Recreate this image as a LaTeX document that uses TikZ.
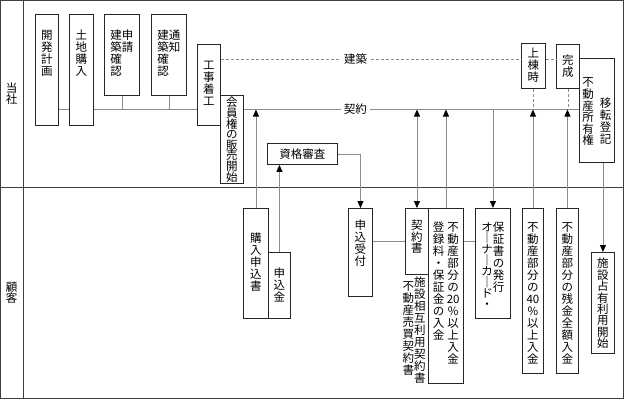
\documentclass[tikz,border=0pt]{standalone}
\usepackage{fontspec}
\setmainfont{Noto Sans CJK JP}
\usetikzlibrary{arrows.meta}

\makeatletter
\newcommand\vt[2][12pt]{\vtop{\baselineskip=#1\lineskiplimit=-\maxdimen\lineskip=0pt\vt@loop#2\vt@end}}
\def\vt@loop#1#2\vt@end{\hbox to 1em{\hss#1\hss}\if\relax\detokenize{#2}\relax\else\vt@loop#2\vt@end\fi}
\makeatother

\tikzset{
  box/.style={draw=black!85, line width=.9pt, inner sep=0pt, anchor=north west, font=\fontsize{11.5}{12}\selectfont},
  conn/.style={draw=black!45, line width=.9pt},
  dashconn/.style={conn, dash pattern=on 3pt off 2pt},
  lbl/.style={fill=white, inner xsep=3pt, inner ysep=1pt, font=\fontsize{11.5}{12}\selectfont},
  frame/.style={draw=black!75, line width=1pt},
}

\begin{document}
\begin{tikzpicture}[x=1pt, y=-1pt, >={Triangle[width=6pt,length=7pt,color=black]}]
	\useasboundingbox (0,0) rectangle (625,399);
	\draw[frame] (0.5,0.5) rectangle (623,398);
	\draw[frame] (23,0.5) -- (23,398);
	\draw[frame] (0.5,187) -- (623,187);
	\node[font=\fontsize{11.5}{12}\selectfont, inner sep=0pt] (tosha) at (11.5,94) {\vt[11pt]{当社}};
	\node[font=\fontsize{11.5}{12}\selectfont, inner sep=0pt] (kokyaku) at (11.5,293) {\vt[11pt]{顧客}};

	% company lane
	\node[box, minimum width=23pt, text height=25.5pt, text depth=85.5pt] (kaihatsu) at (35,14) {\vt{開発計画}};
	\node[box, minimum width=24pt, text height=25.5pt, text depth=85.5pt] (tochi) at (69,14) {\vt{土地購入}};
	\node[box, minimum width=35pt, text height=25.5pt, text depth=55.5pt] (shinsei) at (104,14) {\vt{建築確認}\vt{申請}};
	\node[box, minimum width=35pt, text height=25.5pt, text depth=55.5pt] (tsuchi) at (151,14) {\vt{建築確認}\vt{通知}};
	\node[box, minimum width=23pt, text height=25.5pt, text depth=55.5pt] (chakko) at (197,44) {\vt{工事着工}};
	\node[box, minimum width=23pt, text height=11.5pt, text depth=76.5pt] (hanbai) at (220,95) {\vt[10.6pt]{会員権の販売開始}};
	\node[box, minimum width=24pt, text height=14.5pt, text depth=30.5pt] (jotoji) at (521,43) {\vt{上棟時}};
	\node[box, minimum width=23pt, text height=20.5pt, text depth=23.5pt] (kansei) at (556,44) {\vt{完成}};
	\node[box, minimum width=35pt, text height=28.5pt, text depth=75.5pt] (iten) at (579,58) {\vt[11.6pt]{不動産所有権}\hspace{6pt}\raisebox{-21pt}{\vt{移転登記}}};
	\node[box, minimum width=70pt, minimum height=21pt] (shikaku) at (267,143) {資格審査};

	% customer lane
	\node[box, minimum width=25pt, text height=34.5pt, text depth=75.5pt] (kounyu) at (243,208) {\vt{購入申込書}};
	\node[box, minimum width=22pt, text height=25.5pt, text depth=40.5pt] (moushikomikin) at (268,252) {\vt{申込金}};
	\node[box, minimum width=24pt, text height=21.5pt, text depth=66.5pt] (uketsuke) at (348,208) {\vt{申込受付}};
	\node[box, minimum width=23pt, text height=21.5pt, text depth=44.5pt] (keiyakusho) at (405,208) {\vt[11.5pt]{契約書}};
	\node[inner sep=0pt, anchor=base, font=\fontsize{11.5}{12}\selectfont] (shorui) at (414,286.5) {\raisebox{-4pt}{\vt{不動産売買契約書}}\vt{施設相互利用契約書}};
	\node[box, minimum width=35pt, text height=23.5pt, text depth=151.5pt] (nyukin20) at (428,208) {\vt{登録料・保証金の入金}\hspace{3pt}\vt{不動産部分の{20}\%以上入金}};
	\node[box, minimum width=35pt, text height=23.5pt, text depth=86.5pt] (hoshosho) at (475,208) {\vt[11pt]{オ｜ナ｜カ｜ド・}\vt{保証書の発行}};
	\node[box, minimum width=21pt, text height=23.5pt, text depth=141.5pt] (nyukin40) at (522,208) {\vt{不動産部分の{40}\%以上入金}};
	\node[box, minimum width=22pt, text height=23.5pt, text depth=141.5pt] (zankin) at (556,208) {\vt{不動産部分の残金全額入金}};
	\node[box, minimum width=23pt, text height=15.5pt, text depth=85.5pt] (kaishi) at (591,252) {\vt[11.4pt]{施設占有利用開始}};

	\coordinate (kline) at (0,109.5);
	\coordinate (kenchiku) at (0,59);
	\coordinate (rowline) at (0,241);

	% connectors
	\draw[conn] (kaihatsu.east |- kline) -- (tochi.west |- kline);
	\draw[conn] (tochi.east |- kline) -- (chakko.west |- kline);
	\draw[conn] (shinsei.south) -- (shinsei.south |- kline);
	\draw[conn] (tsuchi.south) -- (tsuchi.south |- kline);
	\draw[dashconn] (chakko.east |- kenchiku) -- (jotoji.west |- kenchiku) node[lbl, pos=.449] (kenchiku-t) {建築};
	\draw[dashconn] (jotoji.east |- kenchiku) -- (kansei.west |- kenchiku);
	\draw[conn] (hanbai.east |- kline) -- (iten.west |- kline) node[lbl, pos=.333] (keiyaku-t) {契約};
	\draw[dashconn] (jotoji.south) -- (jotoji.south |- kline);
	\draw[dashconn] (kansei.south) -- (kansei.south |- kline);

	\draw[conn, ->] (kounyu.north) -- (kounyu.north |- kline);
	\draw[conn, ->] (moushikomikin.north) -- (moushikomikin.north |- shikaku.south);
	\draw[conn, ->] (shikaku.east) -| (uketsuke.north);
	\draw[conn] (uketsuke.east |- rowline) -- (keiyakusho.west |- rowline);
	\draw[conn, <->] (keiyakusho.north |- kline) -- (keiyakusho.north);
	\draw[conn, ->] (nyukin20.north) -- (nyukin20.north |- kline);
	\draw[conn, ->] (hoshosho.north |- kline) -- (hoshosho.north);
	\draw[conn] (nyukin20.east |- rowline) -- (hoshosho.west |- rowline);
	\draw[conn, ->] (nyukin40.north) -- (nyukin40.north |- kline);
	\draw[conn, ->] (zankin.north) -- (zankin.north |- kline);
	\draw[conn, ->] (kaishi.north |- iten.south) -- (kaishi.north);
\end{tikzpicture}
\end{document}
